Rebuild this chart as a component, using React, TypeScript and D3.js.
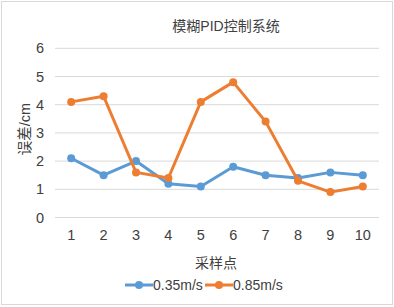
import React from "react";
import * as d3 from "d3";

const categories = ["1", "2", "3", "4", "5", "6", "7", "8", "9", "10"];
const seriesNames = ["0.35m/s", "0.85m/s"];
const series035 = [2.1, 1.5, 2.0, 1.2, 1.1, 1.8, 1.5, 1.4, 1.6, 1.5];
const series085 = [4.1, 4.3, 1.6, 1.4, 4.1, 4.8, 3.4, 1.3, 0.9, 1.1];
const yTicks = [0, 1, 2, 3, 4, 5, 6];
const colors = ["#5B9BD5", "#ED7D31"];

const W = 394, H = 307;
const FONT = "'Liberation Sans', Arial, 'Noto Sans CJK SC', sans-serif";

export default function App() {
  const x = d3.scaleBand().domain(categories).range([55, 379]);
  const y = d3.scaleLinear().domain([0, 6]).range([217.5, 48.3]);
  const line = d3
    .line<number>()
    .x((_, i) => (x(categories[i]) as number) + x.bandwidth() / 2)
    .y((d) => y(d));
  const all = [series035, series085];
  const legendX = [125, 205];
  return (
    <svg width={W} height={H} style={{ position: "absolute", left: 0, top: 0 }} fontFamily={FONT}>
      <rect x={0} y={0} width={W} height={H} fill="#fff" />
      <rect x={1.5} y={1.5} width={W - 3} height={H - 4} fill="#fff" stroke="#D9D9D9" strokeWidth={1} />
      <text x={226} y={31} textAnchor="middle" fontSize={14} fill="#404040">模糊PID控制系统</text>
      {yTicks.map((t) => (
        <g key={t}>
          <line x1={55} x2={379} y1={y(t)} y2={y(t)} stroke="#D9D9D9" strokeWidth={1} />
          <text x={44} y={y(t) + 5} textAnchor="end" fontSize={14.5} fill="#404040">{t}</text>
        </g>
      ))}
      {categories.map((c) => (
        <text key={c} x={(x(c) as number) + x.bandwidth() / 2} y={240} textAnchor="middle" fontSize={14.5} fill="#404040">{c}</text>
      ))}
      <text x={216} y={268} textAnchor="middle" fontSize={14} fill="#404040">采样点</text>
      <text transform={`translate(30,129) rotate(-90)`} textAnchor="middle" fontSize={14.5} fill="#404040">误差/cm</text>
      {all.map((s, k) => (
        <g key={k}>
          <path d={line(s) as string} fill="none" stroke={colors[k]} strokeWidth={3} strokeLinejoin="round" />
          {s.map((v, i) => (
            <circle key={i} cx={(x(categories[i]) as number) + x.bandwidth() / 2} cy={y(v)} r={4} fill={colors[k]} />
          ))}
        </g>
      ))}
      {seriesNames.map((n, k) => (
        <g key={n}>
          <line x1={legendX[k]} x2={legendX[k] + 28} y1={285} y2={285} stroke={colors[k]} strokeWidth={3} />
          <circle cx={legendX[k] + 14} cy={285} r={4} fill={colors[k]} />
          <text x={legendX[k] + 28} y={290} fontSize={14} fill="#404040">{n}</text>
        </g>
      ))}
    </svg>
  );
}
